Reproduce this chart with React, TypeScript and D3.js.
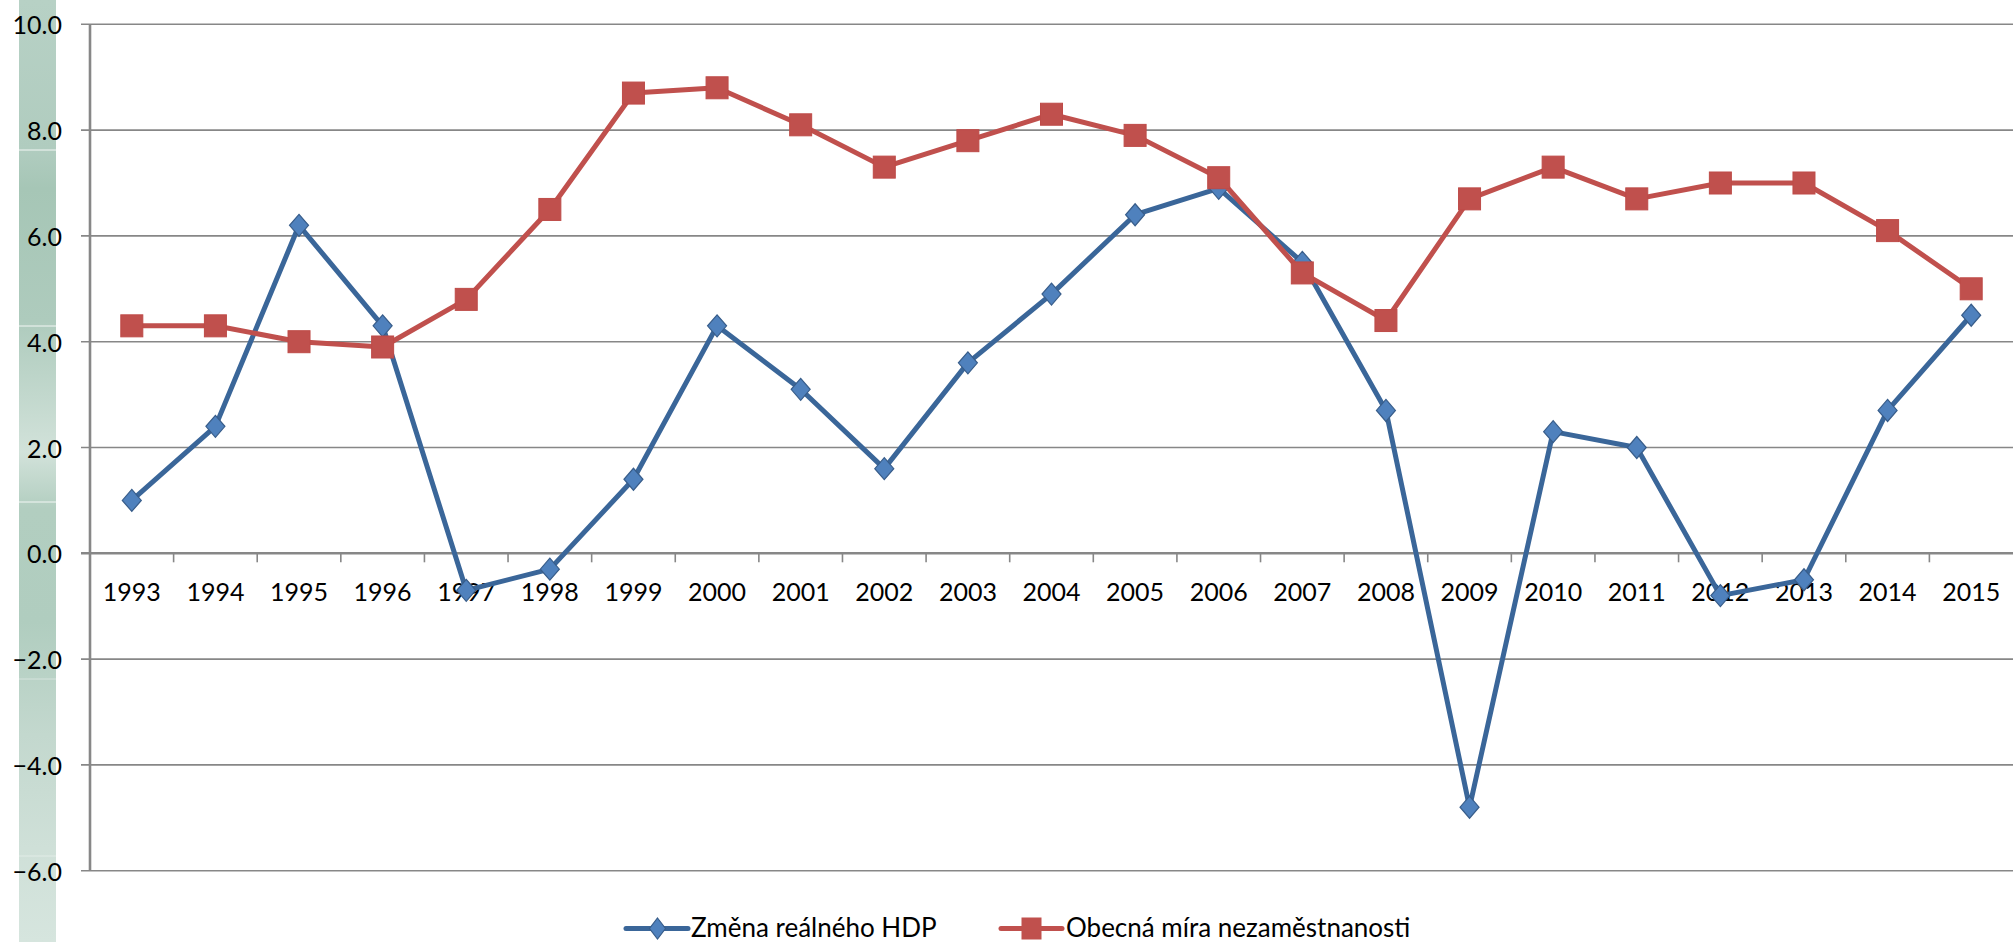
import React from "react";
import * as d3 from "d3";

const years = ["1993","1994","1995","1996","1997","1998","1999","2000","2001","2002","2003","2004","2005","2006","2007","2008","2009","2010","2011","2012","2013","2014","2015"];
const gdp = [1.0, 2.4, 6.2, 4.3, -0.7, -0.3, 1.4, 4.3, 3.1, 1.6, 3.6, 4.9, 6.4, 6.9, 5.5, 2.7, -4.8, 2.3, 2.0, -0.8, -0.5, 2.7, 4.5];
const unemp = [4.3, 4.3, 4.0, 3.9, 4.8, 6.5, 8.7, 8.8, 8.1, 7.3, 7.8, 8.3, 7.9, 7.1, 5.3, 4.4, 6.7, 7.3, 6.7, 7.0, 7.0, 6.1, 5.0];
const yTicks = [-6, -4, -2, 0, 2, 4, 6, 8, 10];
const seriesNames = ["Změna reálného HDP", "Obecná míra nezaměstnanosti"];

const W = 2013;
const H = 942;
const FONT = "Lato, 'Open Sans', sans-serif";

export default function App() {
  const x = d3.scaleBand<string>().domain(years).range([90, 2013]).paddingInner(0).paddingOuter(0);
  const y = d3.scaleLinear().domain([-6, 10]).range([870.7, 24.3]);
  const bw = x.bandwidth();
  const cx = (i: number) => (x(years[i]) as number) + bw / 2;
  const line = d3.line<number>().x((_, i) => cx(i)).y((v) => y(v));
  const blueLine = "#3a6699";
  const blueFill = "#4f81bd";
  const blueStroke = "#385d8a";
  const red = "#c0504d";
  const y0 = y(0);
  const legY = 928.5;
  const diamond = (px: number, py: number, rx: number, ry: number) =>
    `M${px},${py - ry}L${px + rx},${py}L${px},${py + ry}L${px - rx},${py}Z`;

  return (
    <svg width={W} height={H} style={{ position: "absolute", left: 0, top: 0, background: "#fff" }} fontFamily={FONT}>
      <defs>
        <linearGradient id="greenbar" x1="0" y1="0" x2="0" y2="1">
          <stop offset="0" stopColor="#b7d1c5" />
          <stop offset="0.16" stopColor="#b0ccbf" />
          <stop offset="0.2" stopColor="#a6c6b6" />
          <stop offset="0.34" stopColor="#aecbbd" />
          <stop offset="0.42" stopColor="#c2d8cd" />
          <stop offset="0.48" stopColor="#d2e2da" />
          <stop offset="0.54" stopColor="#b2cec0" />
          <stop offset="0.66" stopColor="#b0cdbf" />
          <stop offset="0.78" stopColor="#c3d8ce" />
          <stop offset="0.9" stopColor="#cfe0d8" />
          <stop offset="1" stopColor="#d6e5de" />
        </linearGradient>
      </defs>
      <rect x={0} y={0} width={W} height={H} fill="#fff" />
      <rect x={19} y={0} width={37} height={H} fill="url(#greenbar)" />
      {[150, 326, 502].map((v) => (
        <line key={v} x1={19} x2={56} y1={v} y2={v} stroke="#fff" strokeWidth={1} opacity={0.85} />
      ))}
      {[679, 856].map((v) => (
        <line key={v} x1={19} x2={56} y1={v} y2={v} stroke="#fff" strokeWidth={1} opacity={0.4} />
      ))}

      {/* gridlines */}
      {yTicks.map((t) => (
        <line key={t} x1={81} x2={2013} y1={y(t)} y2={y(t)} stroke="#878787" strokeWidth={t === 0 ? 2.5 : 1.6} />
      ))}
      {/* vertical axis */}
      <line x1={90} x2={90} y1={y(10)} y2={y(-6)} stroke="#878787" strokeWidth={2.6} />
      {/* category ticks */}
      {years.map((yr, i) => (i === 0 ? null : (
        <line key={yr} x1={x(yr) as number} x2={x(yr) as number} y1={y0} y2={y0 + 9} stroke="#878787" strokeWidth={1.6} />
      )))}

      {/* y labels */}
      {yTicks.map((t) => (
        <text key={t} x={62} y={y(t)} textAnchor="end" dominantBaseline="central" fontSize={25} fill="#000">
          {d3.format(".1f")(t)}
        </text>
      ))}
      {/* x labels */}
      {years.map((yr, i) => (
        <text key={yr} x={cx(i)} y={y0 + 38} textAnchor="middle" dominantBaseline="central" fontSize={25} fill="#000">
          {yr}
        </text>
      ))}

      {/* GDP series */}
      <path d={line(gdp) as string} fill="none" stroke={blueLine} strokeWidth={5} strokeLinejoin="round" />
      {gdp.map((v, i) => (
        <path key={i} d={diamond(cx(i), y(v), 9.5, 11)} fill={blueFill} stroke={blueStroke} strokeWidth={1.2} />
      ))}

      {/* Unemployment series */}
      <path d={line(unemp) as string} fill="none" stroke={red} strokeWidth={5} strokeLinejoin="round" />
      {unemp.map((v, i) => (
        <rect key={i} x={cx(i) - 11} y={y(v) - 11} width={22} height={22} fill={red} stroke="#be4b48" strokeWidth={1} />
      ))}

      {/* legend */}
      <g>
        <line x1={626} x2={688} y1={legY} y2={legY} stroke={blueLine} strokeWidth={5} strokeLinecap="round" />
        <path d={diamond(657.5, legY, 8, 10.5)} fill={blueFill} stroke={blueStroke} strokeWidth={1.2} />
        <text x={691} y={legY - 2} dominantBaseline="central" fontSize={26} fill="#000">{seriesNames[0]}</text>
        <line x1={1001} x2={1062} y1={legY} y2={legY} stroke={red} strokeWidth={5} strokeLinecap="round" />
        <rect x={1031.5 - 10} y={legY - 11} width={20} height={22} fill={red} />
        <text x={1066} y={legY - 2} dominantBaseline="central" fontSize={26} fill="#000">{seriesNames[1]}</text>
      </g>
    </svg>
  );
}
